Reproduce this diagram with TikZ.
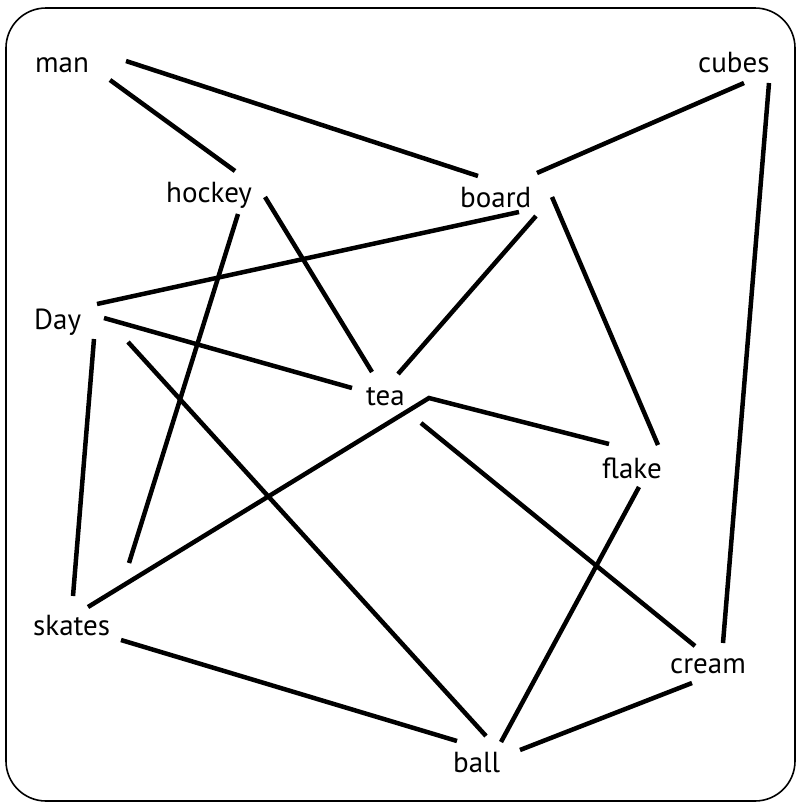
\documentclass[tikz,border=0pt]{standalone}
\usepackage{fontspec}
\setmainfont{PT Sans}
\usetikzlibrary{positioning}

\begin{document}
\begin{tikzpicture}[x=1pt,y=-1pt,
  word/.style={inner sep=0pt,anchor=base west,font=\fontsize{29}{34}\selectfont},
  link/.style={line width=4.5pt}]
\useasboundingbox (0,0) rectangle (796,804);
\draw[line width=1.6pt,rounded corners=40pt] (6,8) rectangle (795,801);
% words
\node[word] (man) at (35,72) {man};
\node[word] (cubes) at (698,72) {cubes};
\node[word] (hockey) at (166,202) {hockey};
\node[word] (board) at (460,207) {board};
\node[word] (Day) at (34,329) {Day};
\node[word] (tea) at (366,405) {tea};
\node[word] (flake) at (602,478) {flake};
\node[word] (skates) at (33,635) {skates};
\node[word] (cream) at (670,673) {cream};
\node[word] (ball) at (453,772) {ball};
% links
\draw[link] ([shift={(91,-11)}]man.base west) -- ([shift={(18,-31)}]board.base west);
\draw[link] ([shift={(75,8)}]man.base west) -- ([shift={(69,-31)}]hockey.base west);
\draw[link] ([shift={(46,11)}]cubes.base west) -- ([shift={(77,-34)}]board.base west);
\draw[link] ([shift={(71,11)}]cubes.base west) -- ([shift={(53,-30)}]cream.base west);
\draw[link] ([shift={(99,-5)}]hockey.base west) -- ([shift={(6,-33)}]tea.base west);
\draw[link] ([shift={(72,12)}]hockey.base west) -- ([shift={(96,-72)}]skates.base west);
\draw[link] ([shift={(59,5)}]board.base west) -- ([shift={(63,-25)}]Day.base west);
\draw[link] ([shift={(76,9)}]board.base west) -- ([shift={(32,-31)}]tea.base west);
\draw[link] ([shift={(92,-10)}]board.base west) -- ([shift={(56,-33)}]flake.base west);
\draw[link] ([shift={(70,-11)}]Day.base west) -- ([shift={(-14,-17)}]tea.base west);
\draw[link] ([shift={(94,13)}]Day.base west) -- ([shift={(33,-36)}]ball.base west);
\draw[link] ([shift={(60,10)}]Day.base west) -- ([shift={(40,-39)}]skates.base west);
\draw[link] ([shift={(55,-28)}]skates.base west) -- ([shift={(63,-7)}]tea.base west)
  -- ([shift={(7,-34)}]flake.base west);
\draw[link] ([shift={(55,18)}]tea.base west) -- ([shift={(25,-27)}]cream.base west);
\draw[link] ([shift={(37,9)}]flake.base west) -- ([shift={(48,-30)}]ball.base west);
\draw[link] ([shift={(88,5)}]skates.base west) -- ([shift={(4,-31)}]ball.base west);
\draw[link] ([shift={(22,10)}]cream.base west) -- ([shift={(67,-22)}]ball.base west);
\end{tikzpicture}
\end{document}
